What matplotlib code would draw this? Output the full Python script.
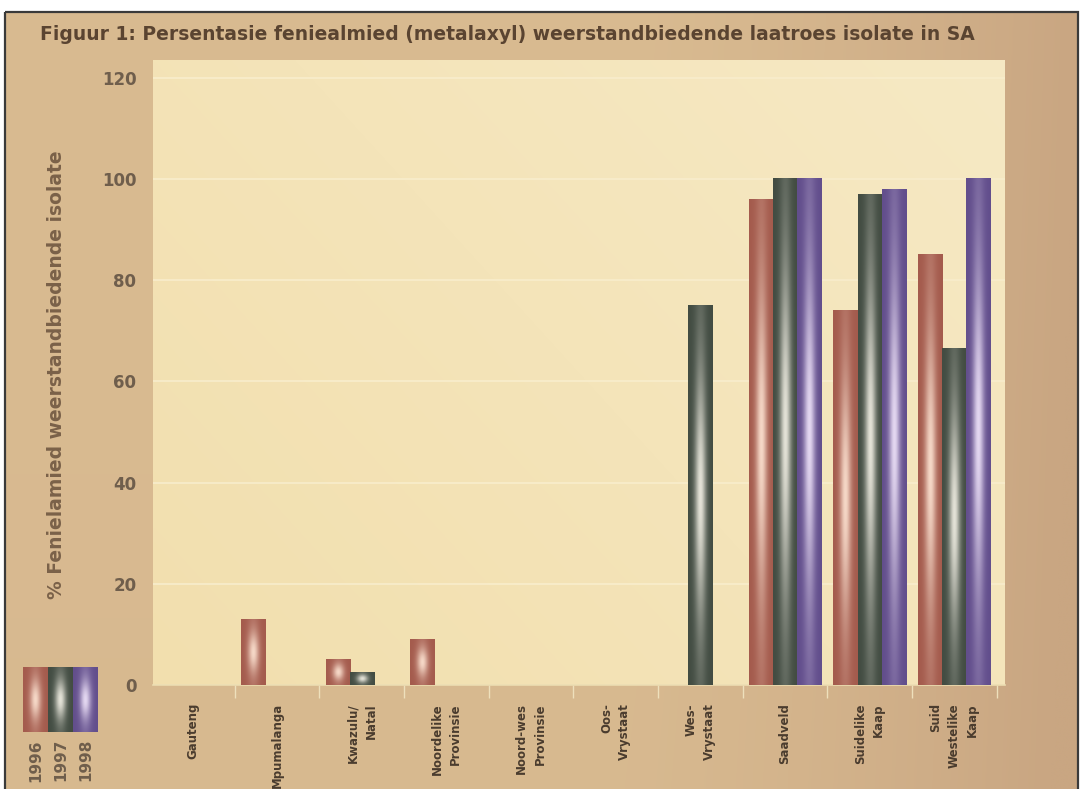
import numpy as np
import matplotlib
matplotlib.use("Agg")
import matplotlib.pyplot as plt
from matplotlib.patches import Rectangle
from matplotlib.colors import to_rgb

# chart data
regions = ["Gauteng", "Mpumalanga", "Kwazulu/\nNatal", "Noordelike\nProvinsie",
           "Noord-wes\nProvinsie", "Oos-\nVrystaat", "Wes-\nVrystaat", "Saadveld",
           "Suidelike\nKaap", "Suid\nWestelike\nKaap"]
years = ["1996", "1997", "1998"]
pct_1996 = [0, 13, 5, 9, 0, 0, 0, 96, 74, 85]
pct_1997 = [0, 0, 2.5, 0, 0, 0, 75, 100, 97, 66.5]
pct_1998 = [0, 0, 0, 0, 0, 0, 0, 100, 98, 100]
yticks = [0, 20, 40, 60, 80, 100, 120]

title = "Figuur 1: Persentasie feniealmied (metalaxyl) weerstandbiedende laatroes isolate in SA"
ylabel = "% Fenielamied weerstandbiedende isolate"

# (edge colour, highlight colour) for each year
shades = [("#a45b4d", "#f8dccb"), ("#424c42", "#e9e7dc"), ("#624e8c", "#e8dcf4")]

W, H = 1083, 789
fig = plt.figure(figsize=(W / 100, H / 100), dpi=100, facecolor="white")


def shaded(edge, light, nx=48, ny=200):
    e = np.array(to_rgb(edge))
    l = np.array(to_rgb(light))
    tx = np.linspace(-1, 1, nx)[None, :]
    ty = np.linspace(-1, 1, ny)[:, None]
    h = np.exp(-(tx / 0.45) ** 2 - (ty / 0.62) ** 2)
    h = 0.85 * h + 0.12 * np.exp(-(tx / 0.5) ** 2)
    h = np.clip(h, 0, 1)
    return e[None, None, :] * (1 - h[..., None]) + l[None, None, :] * h[..., None]


# tan page background with a dark frame
bg = fig.add_axes([0, 0, 1, 1], zorder=-10)
bg.set_xlim(0, W)
bg.set_ylim(H, 0)
bg.axis("off")
gx = np.linspace(0, 1, 300)[None, :]
gy = np.linspace(0, 1, 200)[:, None]
c_left = np.array(to_rgb("#d9bb91"))
c_right = np.array(to_rgb("#c9a682"))
t = np.clip((gx - 0.55) / 0.45, 0, 1) ** 1.5 + 0.08 * gy
t = np.clip(t, 0, 1)
tex = c_left[None, None, :] * (1 - t[..., None]) + c_right[None, None, :] * t[..., None]
bg.imshow(tex, extent=[5, 1078, H, 12], aspect="auto", interpolation="bilinear")
bg.add_patch(Rectangle((5, 12), 1073, H, fill=False, edgecolor="#3a3a3a", lw=1.6))

# main axes
ax = fig.add_axes([153 / W, 1 - 685 / H, 852 / W, 625 / H])
xmin, xmax, ymax = -0.466, 9.6, 123.5
pa = np.linspace(0, 1, 200)[None, :] * 0.6 + np.linspace(1, 0, 200)[:, None] * 0.4
c_a = np.array(to_rgb("#f2dfae"))
c_b = np.array(to_rgb("#f6e9c4"))
area = c_a[None, None, :] * (1 - pa[..., None]) + c_b[None, None, :] * pa[..., None]
ax.imshow(area, extent=[xmin, xmax, 0, ymax], aspect="auto", zorder=0, interpolation="bilinear")

x = np.arange(len(regions))
bw = 0.285
for i, (vals, (edge, light)) in enumerate(zip([pct_1996, pct_1997, pct_1998], shades)):
    bars = ax.bar(x + (i - 1) * bw, vals, bw, facecolor="none", edgecolor="none", zorder=3)
    for b in bars:
        if b.get_height() <= 0:
            continue
        x0, w, h = b.get_x(), b.get_width(), b.get_height()
        ax.imshow(shaded(edge, light), extent=[x0, x0 + w, 0, h], aspect="auto",
                  zorder=3, interpolation="bilinear")

ax.set_xlim(xmin, xmax)
ax.set_ylim(0, ymax)
ax.set_yticks(yticks)
ax.yaxis.grid(True, color="#f8edcc", lw=1.2, zorder=1)
ax.set_axisbelow(True)
for s in ["left", "right", "top"]:
    ax.spines[s].set_visible(False)
ax.spines["bottom"].set_color("#ecdcb0")
ax.spines["bottom"].set_linewidth(1.2)

ax.tick_params(axis="y", length=0, pad=12, labelsize=12, labelcolor="#6f5e4c")
for lab in ax.get_yticklabels():
    lab.set_fontweight("bold")

ax.set_xticks(x)
ax.set_xticklabels(regions)
ax.set_xticks(np.arange(0.5, 10, 1), minor=True)
ax.tick_params(axis="x", which="major", length=0, pad=13, labelsize=8.5, labelcolor="#4a3c2e")
ax.tick_params(axis="x", which="minor", length=9, width=1, color="#eee0bc")
plt.setp(ax.get_xticklabels(), rotation=90, ha="center", va="top",
         multialignment="right", linespacing=1.55, fontweight="bold")

fig.text(40 / W, 1 - 40 / H, title, fontsize=13.5, fontweight="bold",
         color="#5a4431", va="baseline", ha="left")
fig.text(57 / W, 1 - 375 / H, ylabel, fontsize=13.5, fontweight="bold",
         color="#7a6149", rotation=90, va="center", ha="center")

# legend: three shaded strips with rotated years underneath
lg = fig.add_axes([23 / W, 1 - 732 / H, 75 / W, 65 / H])
lg.set_xlim(0, 3)
lg.set_ylim(0, 1)
lg.axis("off")
for i, (edge, light) in enumerate(shades):
    lg.imshow(shaded(edge, light), extent=[i, i + 1, 0, 1], aspect="auto",
              interpolation="bilinear")
    fig.text((35.5 + 25 * i) / W, 1 - 739 / H, years[i], fontsize=11, fontweight="bold",
             color="#6f5e4c", rotation=90, ha="center", va="top")

fig.savefig("out.png", dpi=100, facecolor=fig.get_facecolor())
